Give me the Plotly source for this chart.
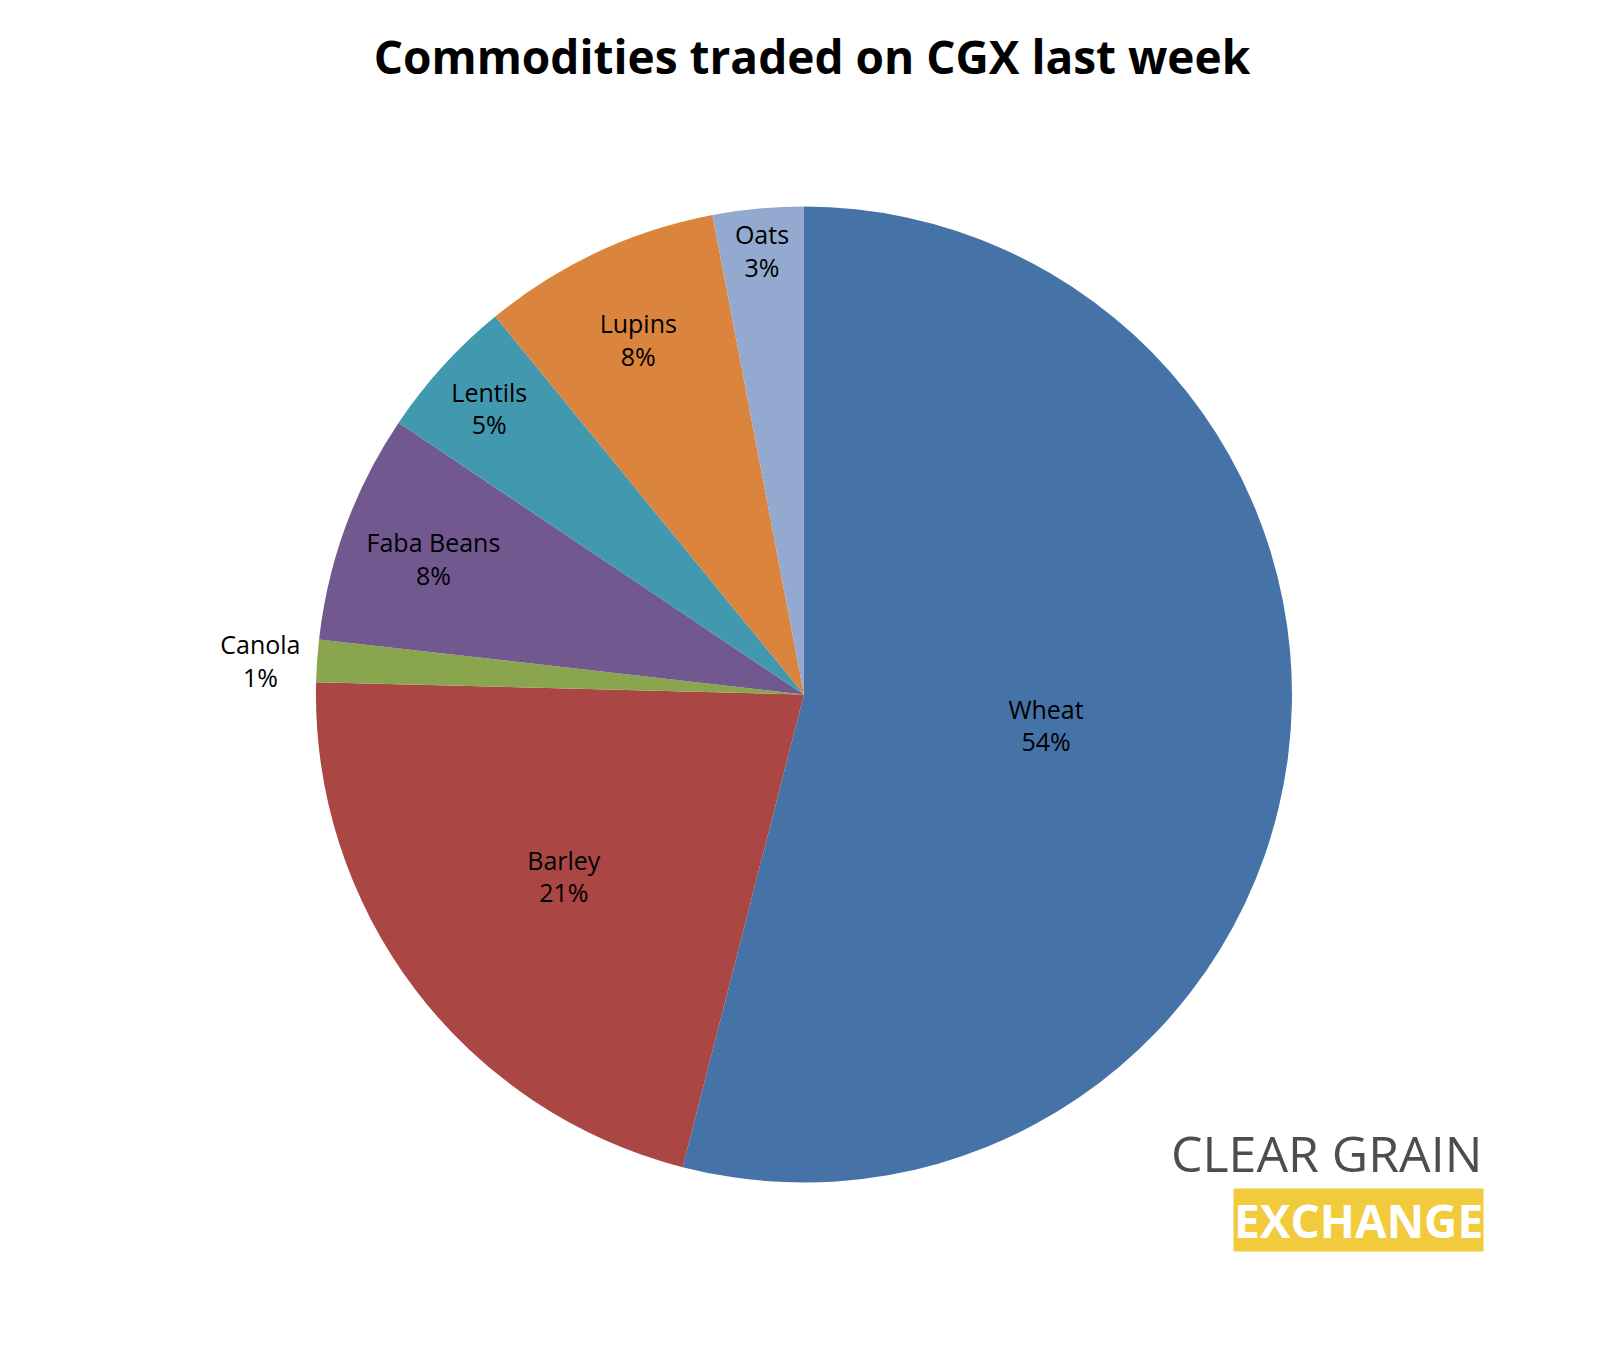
import plotly.graph_objects as go

labels = ["Wheat", "Barley", "Canola", "Faba Beans", "Lentils", "Lupins", "Oats"]
values = [54.0, 21.4, 1.4, 7.6, 4.7, 7.9, 3.0]
colors = ["#4572A7", "#AA4643", "#89A54E", "#71588F", "#4198AF", "#DB843D", "#93A9CF"]
positions = ["inside", "inside", "outside", "inside", "inside", "inside", "inside"]

fig = go.Figure(go.Pie(
    labels=labels, values=values, sort=False, direction="clockwise", rotation=0,
    marker=dict(colors=colors, line=dict(width=0)),
    texttemplate="%{label}<br>%{percent:.0%}", textposition=positions,
    insidetextorientation="horizontal",
    textfont=dict(family="Open Sans", size=25, color="black"),
    showlegend=False, hoverinfo="label+percent",
    domain=dict(x=[0.191, 0.799], y=[0.130, 0.853]),
))
fig.update_layout(
    width=1608, height=1350, paper_bgcolor="white", plot_bgcolor="white",
    margin=dict(l=0, r=0, t=0, b=0),
    uniformtext=dict(minsize=25, mode="show"),
    title=dict(text="<b>Commodities traded on CGX last week</b>", x=0.5, xanchor="center",
               y=0.963, yanchor="middle", font=dict(family="Open Sans", size=46, color="black")),
    annotations=[
        dict(text="CLEAR GRAIN", x=0.918, y=0.152, xref="paper", yref="paper", xanchor="right",
             yanchor="middle", showarrow=False, font=dict(family="Open Sans", size=50, color="#4d4d4d")),
        dict(text="<b>EXCHANGE</b>", x=0.918, y=0.102, xref="paper", yref="paper", xanchor="right",
             yanchor="middle", showarrow=False, bgcolor="#F2CB3C", borderpad=0,
             font=dict(family="Open Sans", size=46, color="white")),
    ],
)
fig.write_html("out.html")
